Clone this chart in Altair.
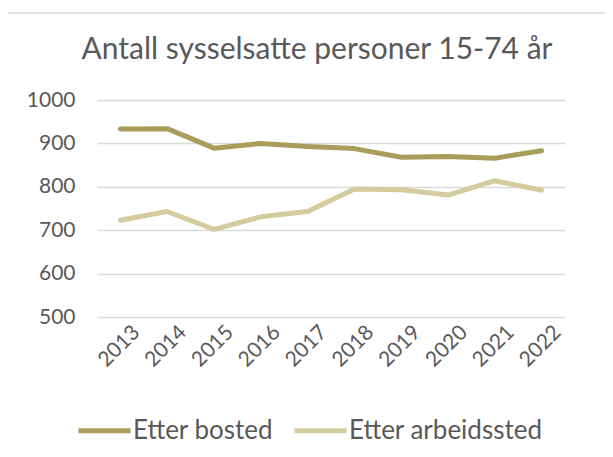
import altair as alt
import pandas as pd

years = ["2013", "2014", "2015", "2016", "2017", "2018", "2019", "2020", "2021", "2022"]
bosted = [933, 934, 889, 900, 893, 888, 868, 870, 866, 883]
arbeidssted = [723, 743, 702, 731, 743, 795, 793, 781, 814, 792]
series_names = ["Etter bosted", "Etter arbeidssted"]
colors = ["#A99D5B", "#D4CB9E"]
title_text = "Antall sysselsatte personer 15-74 år"

rows = []
for i, y in enumerate(years):
    rows.append({"year": y, "value": bosted[i], "serie": series_names[0]})
    rows.append({"year": y, "value": arbeidssted[i], "serie": series_names[1]})
df = pd.DataFrame(rows)

FONT = "Lato"
TXT = "#595959"
BORDER = "#D9D9D9"

one = pd.DataFrame({"t": [title_text]})

frame_left = alt.Chart(one).mark_rule(stroke=BORDER, strokeWidth=1.5, clip=False).encode(
    x=alt.value(-90), y=alt.value(-87), y2=alt.value(360)
)
frame_top = alt.Chart(one).mark_rule(stroke=BORDER, strokeWidth=1.5, clip=False).encode(
    x=alt.value(-90), x2=alt.value(540), y=alt.value(-87)
)

title = alt.Chart(one).mark_text(
    font=FONT, fontSize=30, color=TXT, align="center", baseline="middle", clip=False
).encode(text="t:N", x=alt.value(220), y=alt.value(-50))

lines = alt.Chart(df).mark_line(strokeWidth=5, strokeCap="round", strokeJoin="round").encode(
    x=alt.X("year:O", sort=years, scale=alt.Scale(paddingInner=0, paddingOuter=0.5),
            axis=alt.Axis(labelAngle=-45, labelFontSize=21, labelColor=TXT, labelFont=FONT,
                          domain=False, ticks=False, title=None, labelPadding=4,
                          labelOffset=8, labelAlign="right", labelBaseline="top")),
    y=alt.Y("value:Q", scale=alt.Scale(domain=[500, 1000], nice=False, zero=False),
            axis=alt.Axis(values=[500, 600, 700, 800, 900, 1000], format="d",
                          labelFontSize=21, labelColor=TXT, labelFont=FONT,
                          domain=False, ticks=False, title=None, gridColor=BORDER,
                          gridWidth=1.5, labelPadding=22)),
    color=alt.Color("serie:N", sort=series_names,
                    scale=alt.Scale(domain=series_names, range=colors),
                    legend=alt.Legend(title=None, orient="none", direction="horizontal",
                                      legendX=-21, legendY=302, symbolType="stroke",
                                      symbolSize=2704, symbolStrokeWidth=5,
                                      labelFontSize=26, labelFont=FONT, labelColor=TXT,
                                      labelOffset=0, columnPadding=10,
                                      labelLimit=400)),
)

chart = alt.layer(frame_left, frame_top, title, lines).properties(
    width=468, height=217,
    autosize=alt.AutoSizeParams(type="none"),
    padding={"left": 89, "top": 92, "right": 40, "bottom": 140},
).configure_view(stroke=None)

chart.save("out.html", embed_options={"renderer": "svg", "actions": False})
